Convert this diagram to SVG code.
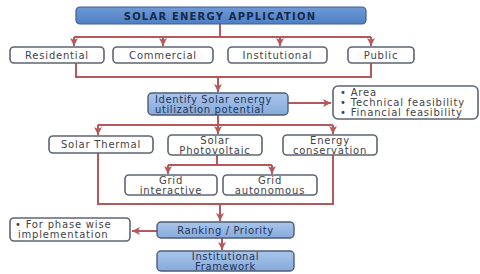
<svg xmlns="http://www.w3.org/2000/svg" width="480" height="274" viewBox="0 0 480 274">
<defs>
<linearGradient id="gTitle" x1="0" y1="0" x2="0" y2="1">
<stop offset="0" stop-color="#6f9ad6"/><stop offset="1" stop-color="#4f7fc4"/>
</linearGradient>
<linearGradient id="gLight" x1="0" y1="0" x2="0" y2="1">
<stop offset="0" stop-color="#a9c5ea"/><stop offset="1" stop-color="#86aadb"/>
</linearGradient>
<marker id="ah" markerUnits="userSpaceOnUse" markerWidth="10" markerHeight="10" refX="8" refY="4" orient="auto">
<path d="M0,0 L8,4 L0,8 L2,4 z" fill="#b5585b"/>
</marker>
<style>
.box{fill:#ffffff;stroke:#5d6573;stroke-width:1.6}
.bbox{fill:url(#gLight);stroke:#4e5d74;stroke-width:1.4}
.t{font-family:"DejaVu Sans",Verdana,sans-serif;font-size:10px;fill:#3f4348;letter-spacing:0.8px}
.tb{font-family:"DejaVu Sans",Verdana,sans-serif;font-size:10px;fill:#1f3558;letter-spacing:0.6px}
.c{text-anchor:middle}
.ln{fill:none;stroke:#b5585b;stroke-width:2}
</style>
</defs>
<g id="connectors">
<path class="ln" d="M220,24 V37 M74,37 H371"/>
<path class="ln" d="M74,37 V46" marker-end="url(#ah)"/>
<path class="ln" d="M163,37 V46" marker-end="url(#ah)"/>
<path class="ln" d="M280,37 V46" marker-end="url(#ah)"/>
<path class="ln" d="M371,37 V46" marker-end="url(#ah)"/>
<path class="ln" d="M76,63 V77 H371 V63"/>
<path class="ln" d="M218,77 V92" marker-end="url(#ah)"/>
<path class="ln" d="M288,103 H331" marker-end="url(#ah)"/>
<path class="ln" d="M218,115 V125 M98,125 H333"/>
<path class="ln" d="M98,125 V135" marker-end="url(#ah)"/>
<path class="ln" d="M218,125 V134" marker-end="url(#ah)"/>
<path class="ln" d="M333,125 V134" marker-end="url(#ah)"/>
<path class="ln" d="M217,155 V165 M168,165 H272"/>
<path class="ln" d="M168,165 V174" marker-end="url(#ah)"/>
<path class="ln" d="M272,165 V174" marker-end="url(#ah)"/>
<path class="ln" d="M98,152 V204 H333 V155"/>
<path class="ln" d="M220,204 V221" marker-end="url(#ah)"/>
<path class="ln" d="M157,231 H132" marker-end="url(#ah)"/>
<path class="ln" d="M222,238 V250" marker-end="url(#ah)"/>
</g>
<g id="title">
<rect x="76" y="7" width="290" height="17" rx="4" fill="url(#gTitle)" stroke="#3d5f92" stroke-width="1.2"/>
<text x="220" y="19.5" class="c" font-family="DejaVu Sans,Verdana,sans-serif" font-size="10" font-weight="bold" fill="#142a4e" letter-spacing="1.2">SOLAR ENERGY APPLICATION</text>
</g>
<g id="residential">
<rect class="box" x="10" y="47" width="94" height="16" rx="4"/>
<text class="t c" x="57" y="58.5">Residential</text>
</g>
<g id="commercial">
<rect class="box" x="113" y="47" width="100" height="16" rx="4"/>
<text class="t c" x="163" y="58.5">Commercial</text>
</g>
<g id="institutional">
<rect class="box" x="228" y="47" width="99" height="16" rx="4"/>
<text class="t c" x="277.5" y="58.5">Institutional</text>
</g>
<g id="public">
<rect class="box" x="348" y="47" width="66" height="16" rx="4"/>
<text class="t c" x="381" y="58.5">Public</text>
</g>
<g id="identify">
<rect class="bbox" x="148" y="93" width="140" height="22" rx="4"/>
<text class="tb" x="155" y="103">Identify Solar energy</text>
<text class="tb" x="155" y="113">utilization potential</text>
</g>
<g id="criteria">
<rect class="box" x="333" y="86" width="145" height="33" rx="5"/>
<text class="t" x="340" y="96">• Area</text>
<text class="t" x="340" y="106">• Technical feasibility</text>
<text class="t" x="340" y="116">•  Financial feasibility</text>
</g>
<g id="solar-thermal">
<rect class="box" x="49" y="136" width="104" height="17" rx="4"/>
<text class="t c" x="101" y="148">Solar Thermal</text>
</g>
<g id="solar-pv">
<rect class="box" x="168" y="135" width="94" height="20" rx="4"/>
<text class="t c" x="215" y="143.5">Solar</text>
<text class="t c" x="215" y="153.5">Photovoltaic</text>
</g>
<g id="energy-conservation">
<rect class="box" x="283" y="135" width="94" height="20" rx="4"/>
<text class="t c" x="330" y="143.5">Energy</text>
<text class="t c" x="330" y="153.5">conservation</text>
</g>
<g id="grid-interactive">
<rect class="box" x="125" y="175" width="92" height="20" rx="4"/>
<text class="t c" x="171" y="183.5">Grid</text>
<text class="t c" x="171" y="193.5">interactive</text>
</g>
<g id="grid-autonomous">
<rect class="box" x="223" y="175" width="94" height="20" rx="4"/>
<text class="t c" x="270" y="183.5">Grid</text>
<text class="t c" x="270" y="193.5">autonomous</text>
</g>
<g id="phase">
<rect class="box" x="10" y="218" width="120" height="23" rx="4"/>
<text class="t" x="15" y="227.5">• For phase wise</text>
<text class="t" x="18" y="238">implementation</text>
</g>
<g id="ranking">
<rect class="bbox" x="157" y="222" width="137" height="16" rx="4"/>
<text class="tb c" x="225.5" y="233.5">Ranking / Priority</text>
</g>
<g id="institutional-framework">
<rect class="bbox" x="157" y="251" width="137" height="20" rx="4"/>
<text class="tb c" x="225.5" y="260">Institutional</text>
<text class="tb c" x="225.5" y="269.5">Framework</text>
</g>
</svg>
